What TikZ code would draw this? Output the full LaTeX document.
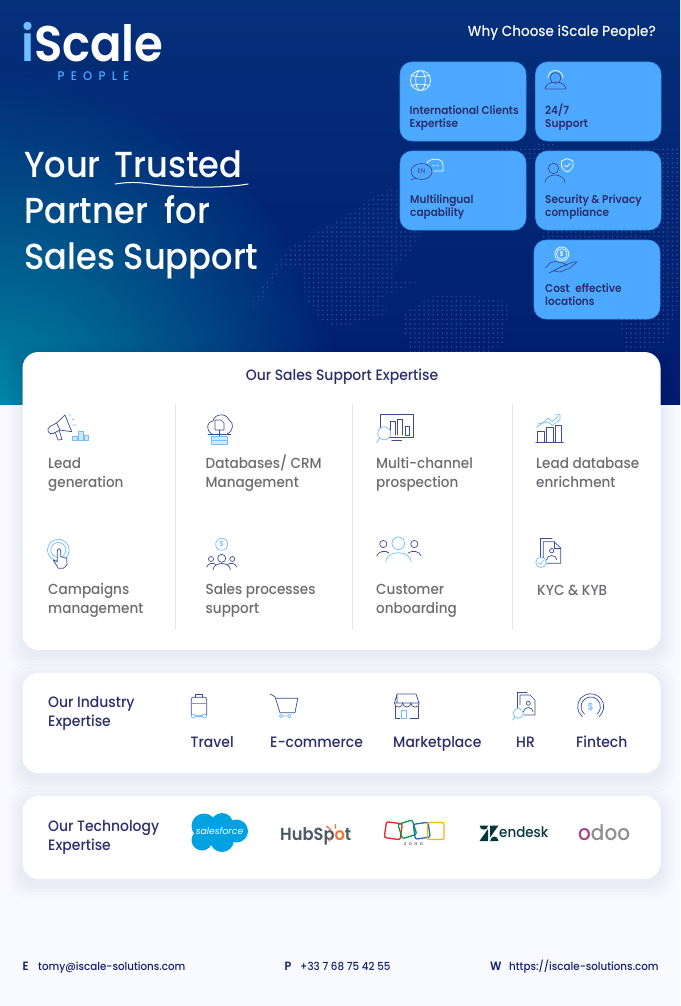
\documentclass[tikz,border=0pt]{standalone}
\usepackage{xcolor}
\usepackage{fontspec}
\usepackage{tikz}
\usetikzlibrary{fadings}
\setmainfont{Poppins}
\newfontfamily\outfit[FakeStretch=0.93]{Poppins Medium}
\newfontfamily\outfitbold[FakeStretch=0.93]{Poppins SemiBold}
\definecolor{pagebg}{HTML}{F8FAFF}
\definecolor{herotop}{HTML}{05307A}
\definecolor{herolow}{HTML}{001C6F}
\definecolor{heroglow}{HTML}{0094AA}
\definecolor{mapdot}{HTML}{324F9C}
\definecolor{tileblue}{HTML}{4DA9FF}
\definecolor{tileedge}{HTML}{3C93EA}
\definecolor{inkblue}{HTML}{2B2E6B}
\definecolor{graytext}{HTML}{6C6C72}
\definecolor{linedark}{HTML}{3D4C97}
\definecolor{linelight}{HTML}{6FBEFF}
\definecolor{rulegray}{HTML}{E1E5F0}
\definecolor{footink}{HTML}{12226F}
\definecolor{cloudblue}{HTML}{00A1E0}
\definecolor{hubgray}{HTML}{4A5A66}
\definecolor{huborange}{HTML}{F0743A}
\definecolor{zohored}{HTML}{E42527}
\definecolor{zohogreen}{HTML}{089949}
\definecolor{zohoblue}{HTML}{226DB4}
\definecolor{zohoyellow}{HTML}{F9B21D}
\definecolor{zendark}{HTML}{03363D}
\definecolor{odoopurple}{HTML}{A24689}
\definecolor{odoogray}{HTML}{8F8F8F}
\tikzset{
    tilebox/.style={fill=tileblue,draw=tileedge,line width=.6pt,rounded corners=12pt},
    tiletext/.style={font=\outfitbold\fontsize{11.3}{13}\selectfont,text=inkblue,align=left,anchor=west,inner sep=0pt},
    whitebox/.style={fill=white,rounded corners=16pt},
    headtext/.style={font=\outfit\fontsize{36.2}{40}\selectfont,text=white,anchor=base west,inner sep=0pt},
    itemtext/.style={font=\outfit\fontsize{14.6}{19}\selectfont,text=graytext,align=left,anchor=west,inner sep=0pt},
    inktext/.style={font=\outfit\fontsize{15}{19}\selectfont,text=inkblue,align=left,anchor=west,inner sep=0pt},
    foottext/.style={font=\outfit\fontsize{11.1}{13}\selectfont,text=footink,anchor=base west,inner sep=0pt},
    footkey/.style={font=\outfitbold\fontsize{12}{13}\selectfont,text=footink,anchor=base west,inner sep=0pt},
    icondark/.style={draw=linedark,line width=.7pt,line join=round,line cap=round},
    iconlight/.style={draw=linelight,line width=.7pt,line join=round,line cap=round},
    tilewhite/.style={draw=white,line width=.7pt,line join=round,line cap=round},
    tiledark/.style={draw=linedark,line width=.7pt,line join=round,line cap=round}
}
\tikzfading[name=glowfade,inner color=transparent!0,outer color=transparent!100]
\newcommand{\softshadow}[4]{%
    \foreach \s in {14,11,8,5,2}
        \fill[black!60!blue,opacity=.01,rounded corners=18pt] (#1-\s,#2-\s+5) rectangle (#3+\s,#4+\s+5);
}
\begin{document}
\begin{tikzpicture}[x=1pt,y=-1pt]
    \useasboundingbox (0,0) rectangle (680,1006);
    \fill[pagebg] (0,0) rectangle (680,1006);
    % hero band
    \begin{scope}
        \clip (0,0) rectangle (680,404);
        \shade[top color=herotop,middle color=herolow,bottom color=herolow] (0,0) rectangle (680,404);
        \fill[heroglow,path fading=glowfade] (-20,440) circle[radius=370];
        \begin{scope}
            \clip (243,315) -- (260,290) -- (277,263) -- (297,243) -- (343,218) -- (373,197) -- (400,185) -- (400,230) -- (422,232) -- (410,253) -- (393,267) -- (397,283) -- (423,280) -- (377,300) -- (390,313) -- (343,327) -- (323,323) -- (305,297) -- (302,267) -- (283,267) -- (263,297) -- cycle
                (403,313) -- (437,293) -- (470,295) -- (510,302) -- (503,343) -- (490,352) -- (410,352) -- (403,327) -- cycle
                (490,150) -- (557,142) -- (530,162) -- (500,165) -- cycle
                (610,150) -- (680,148) -- (680,300) -- (665,345) -- (625,352) -- (620,320) -- (540,236) -- (620,150) -- cycle;
            \foreach \j in {0,...,46}
                \draw[mapdot,line width=1.6pt,line cap=round,dash pattern=on 0pt off 4.6pt] (240,{140+4.6*\j}) -- (680,{140+4.6*\j});
        \end{scope}
    \end{scope}
    % logo
    \node[anchor=base west,inner sep=0pt,text=white,font=\outfitbold\fontsize{50}{50}\selectfont] (logo) at (21,62) {{\color{linelight}i}Scale};
    \node[inner sep=0pt,text=tileblue,font={\outfit\addfontfeature{LetterSpace=50}\fontsize{12.5}{14}\selectfont}] (logopeople) at (93.5,76.5) {PEOPLE};
    % headline
    \node[headtext] (lineone) at (24,177) {Your\hspace{5pt} Trusted};
    \node[headtext] (linetwo) at (24,223) {Partner\hspace{8pt} for};
    \node[headtext] (linethree) at (24,269) {Sales Support};
    \draw[white,line width=1pt,line cap=round] (115,184) .. controls (135,181) and (142,183) .. (160,185) .. controls (190,188) and (225,188) .. (248,184);
    % why choose tiles
    \node[anchor=east,inner sep=0pt,text=white,font=\outfit\fontsize{14.6}{16}\selectfont] (whytitle) at (656,33) {Why Choose iScale People?};
    \filldraw[tilebox] (400,62) rectangle (526,141);
    \filldraw[tilebox] (535.5,62) rectangle (661,141);
    \filldraw[tilebox] (400,151) rectangle (526,230);
    \filldraw[tilebox] (535.5,151) rectangle (661,230);
    \filldraw[tilebox] (534,240) rectangle (660,319);
    \node[tiletext] (intl) at (409.5,118) {International Clients\\Expertise};
    \node[tiletext] (support) at (545,117.5) {24/7\\Support};
    \node[tiletext] (multi) at (410,207.5) {Multilingual\\capability};
    \node[tiletext] (security) at (545,207.5) {Security \& Privacy\\compliance};
    \node[tiletext] (cost) at (545,294.5) {Cost\hspace{3pt} effective\\locations};
    % tile icons
    \draw[tilewhite] (420.5,80.5) circle[radius=10] (420.5,80.5) ellipse[x radius=4.8,y radius=10];
    \draw[tilewhite] (411,75) .. controls (417,77.5) and (424,77.5) .. (430,75) (411,86) .. controls (417,83.5) and (424,83.5) .. (430,86);
    \draw[tilewhite] (548,78) arc[start angle=180,end angle=360,radius=7.5];
    \draw[tiledark] (555.5,78) circle[radius=5.5];
    \draw[tiledark] (545,89) arc[start angle=180,end angle=360,x radius=10.5,y radius=7] -- cycle;
    \draw[tiledark] (421.5,171.5) ellipse[x radius=10.5,y radius=8];
    \draw[tiledark] (411,179.5) -- (416,178.5);
    \draw[tilewhite] (427,163) .. controls (429,158) and (443,157) .. (443,165) -- (443,171) -- (433.5,171);
    \draw[tilewhite] (433,165) -- (434,165) (437,165) -- (438,165);
    \node[inner sep=0pt,text=linedark,font=\outfit\fontsize{6.5}{7}\selectfont] (enmark) at (421.5,171.5) {EN};
    \draw[tiledark] (553.5,168.5) circle[radius=5.2];
    \draw[tiledark] (545,182.5) arc[start angle=180,end angle=360,x radius=10,y radius=7.5];
    \draw[tilewhite] (567.3,158.5) -- (573,161) -- (573,166) .. controls (572.5,169) and (570,171) .. (567.3,172) .. controls (564.5,171) and (562,169) .. (561.5,166) -- (561.5,161) -- cycle;
    \draw[tilewhite] (564.5,165) -- (566.5,167) -- (570,163.5);
    \draw[tilewhite] (561.8,254) circle[radius=7];
    \draw[tilewhite] (561.8,254) circle[radius=5.3];
    \node[inner sep=0pt,text=white,font=\outfit\fontsize{7}{8}\selectfont] (costmark) at (561.8,254) {\$};
    \draw[tiledark] (545.5,268) -- (550,263) -- (555,261.5) -- (563,263) -- (567,265) -- (560,267) (562,266.5) -- (573,262) -- (577,262) -- (570,268) -- (560,272) -- (553,271) -- (549,273) -- cycle;
    % sales support card
    \softshadow{22.5}{352}{660.5}{650}
    \fill[whitebox] (22.5,352) rectangle (660.5,650);
    \node[inktext,anchor=center] (salestitle) at (342,376.5) {Our Sales Support Expertise};
    \coordinate (ruleonetop) at (175.5,404);
    \coordinate (ruleonelow) at (175.5,629);
    \coordinate (ruletwotop) at (352.8,404);
    \coordinate (ruletwolow) at (352.8,629);
    \coordinate (rulethreetop) at (512.3,404);
    \coordinate (rulethreelow) at (512.3,629);
    \draw[rulegray,line width=1pt] (ruleonetop) -- (ruleonelow);
    \draw[rulegray,line width=1pt] (ruletwotop) -- (ruletwolow);
    \draw[rulegray,line width=1pt] (rulethreetop) -- (rulethreelow);
    \node[itemtext] (leadgen) at (48,474.5) {Lead\\generation};
    \node[itemtext] (crm) at (205.5,473.5) {Databases/ CRM\\Management};
    \node[itemtext] (prospect) at (376,474.5) {Multi-channel\\prospection};
    \node[itemtext] (enrich) at (536,472.5) {Lead database\\enrichment};
    \node[itemtext] (campaign) at (48,600.5) {Campaigns\\management};
    \node[itemtext] (process) at (205.5,600.5) {Sales processes\\support};
    \node[itemtext] (onboard) at (376,600.5) {Customer\\onboarding};
    \node[itemtext] (kyc) at (537,590) {KYC \& KYB};
    % megaphone
    \draw[icondark] (56.7,423) -- (65,415) -- (71.7,431.7) -- (60,430) -- cycle;
    \draw[icondark] (56.7,423) -- (50,426.5) .. controls (46,429) and (48,435) .. (53,433.5) -- (60,430);
    \draw[icondark] (55.5,433) -- (58,440) -- (62,439.5) -- (59.5,431.5);
    \draw[iconlight] (69.5,415.5) -- (71,414) (72,420) -- (74,419) (73,425) -- (76,425);
    \filldraw[iconlight,fill=linelight!35] (72.3,436.7) rectangle (77.3,440.7) (78.3,431.7) rectangle (83,440.7) (84,435) rectangle (88.5,440.7);
    % database cloud
    \draw[icondark] (212,434) .. controls (205,430) and (207,421) .. (213,421) .. controls (214,414) and (226,412) .. (229,420) .. controls (234,422) and (234,431) .. (227,434);
    \filldraw[icondark,fill=white] (215,420) -- (221,420) -- (224,423) -- (224,430) -- (215,430) -- cycle;
    \draw[icondark] (219.5,430) -- (219.5,437) (208,434) -- (230.7,434);
    \filldraw[iconlight,fill=linelight!30] (211.7,436.7) rectangle (227.3,440) (211.7,440.5) rectangle (227.3,444);
    % touch
    \draw[iconlight] (58.3,550) circle[radius=10.8];
    \draw[iconlight] (58.3,550) circle[radius=7.5];
    \filldraw[icondark,fill=white] (57.3,551) .. controls (57.5,548) and (60.5,548) .. (60.7,551) -- (60.7,556.7) -- (66.7,558.3) -- (67,565) -- (63.3,568.3) -- (58.3,568.3) -- (53.3,560) -- (57.3,561.7) -- cycle;
    % sales people
    \draw[iconlight] (221.7,544.3) circle[radius=6];
    \node[inner sep=0pt,text=linelight,font=\outfit\fontsize{7.5}{8}\selectfont] (salesmark) at (221.7,544.3) {\$};
    \draw[icondark] (221.7,558.3) circle[radius=4] (211,559) circle[radius=2.5] (232.3,559) circle[radius=2.5];
    \draw[icondark] (213,570) arc[start angle=180,end angle=360,x radius=8.7,y radius=6.5];
    \draw[icondark] (206.7,567) .. controls (208,563) and (213,562.5) .. (216,564.5) (236.7,567) .. controls (235.5,563) and (230.5,562.5) .. (227.5,564.5);
    % monitor
    \draw[icondark] (380,430) -- (380,414.3) -- (413.3,414.3) -- (413.3,437.3) -- (388,437.3);
    \draw[icondark] (391.7,440.7) -- (401.7,440.7);
    \draw[icondark] (390,435) -- (390,421.7) -- (395,421.7) -- (395,435) (397.3,435) -- (397.3,419) -- (402.3,419) -- (402.3,435) (405,435) -- (405,426.7) -- (409.3,426.7) -- (409.3,435) -- cycle;
    \filldraw[iconlight,fill=white] (384.3,433.3) circle[radius=6.5];
    \draw[iconlight] (379.7,438) -- (376.7,442.7);
    % growth bars
    \draw[icondark] (537.7,442.3) -- (537.7,431.7) -- (544.3,431.7) -- (544.3,442.3) (546.7,442.3) -- (546.7,427.3) -- (553.3,427.3) -- (553.3,442.3) (555.7,442.3) -- (555.7,425) -- (561.7,425) -- (561.7,442.3) (535.7,442.7) -- (563.3,442.7);
    \draw[iconlight] (536.7,427.3) -- (548.3,418.3) -- (552.3,421.7) -- (558,416.5) (555,415) -- (560,414.5) -- (560,419.5);
    \draw[iconlight] (537.5,424) -- (548.3,422) -- (552.3,425.5) -- (560,419.5);
    % customers
    \draw[iconlight] (398.3,543.3) circle[radius=6.3];
    \draw[iconlight] (385.7,561.7) arc[start angle=180,end angle=360,x radius=12.7,y radius=9];
    \draw[icondark] (383.3,544) circle[radius=3.6] (414.3,544) circle[radius=3.6];
    \draw[icondark] (376.7,556) .. controls (378,551) and (386,550) .. (389,553) (421,556) .. controls (420,551) and (412,550) .. (408,553);
    % kyc doc
    \draw[icondark] (540,560) -- (540,538.3) -- (552,538.3);
    \draw[icondark] (543.3,558) -- (543.3,541.7) -- (554,541.7) -- (560.7,548) -- (560.7,563.3) -- (547,563.3);
    \draw[icondark] (554,541.7) -- (554,548) -- (560.7,548);
    \draw[icondark] (551.7,550.7) circle[radius=2.2];
    \draw[icondark] (546.5,560) arc[start angle=180,end angle=360,x radius=5.2,y radius=4.5];
    \filldraw[iconlight,fill=white] (541,562.3) circle[radius=5.2];
    \draw[iconlight] (538.5,562.5) -- (540.5,564.3) -- (543.5,560.5);
    % industry card
    \softshadow{22.5}{673}{660.5}{773}
    \fill[whitebox] (22.5,673) rectangle (660.5,773);
    \node[inktext] (industry) at (48,713.5) {Our Industry\\Expertise};
    \node[inktext,anchor=base west] (travel) at (190.5,747.5) {Travel};
    \node[inktext,anchor=base west] (ecom) at (270,747.5) {E-commerce};
    \node[inktext,anchor=base west] (market) at (393,747.5) {Marketplace};
    \node[inktext,anchor=base west] (hrlabel) at (516,747.5) {HR};
    \node[inktext,anchor=base west] (fintech) at (576,747.5) {Fintech};
    % suitcase
    \draw[icondark,rounded corners=2pt] (191.3,716) rectangle (206.7,697.3);
    \draw[icondark] (195.7,697.3) -- (195.7,694) -- (202.3,694) -- (202.3,697.3);
    \draw[draw=linedark!60,line width=1pt] (191.5,703.3) -- (206.5,703.3);
    \filldraw[iconlight,fill=white] (193.3,716) circle[radius=2] (204.3,716) circle[radius=2];
    \draw[iconlight] (195.3,716) -- (202.3,716);
    % cart
    \draw[icondark] (270,694) -- (275,696.7) -- (280,712.7) -- (295,712.7) -- (297.7,698.3) -- (276,698.3);
    \draw[iconlight] (281,716) circle[radius=1.7] (289.3,716) circle[radius=1.7] (282.7,716) -- (287.6,716);
    % store
    \draw[icondark] (397,703) -- (397,694) -- (416,694) -- (419,703) -- (394.5,703) -- (397,694);
    \foreach \sx in {394.5,402.7,410.9}
        \draw[icondark] (\sx,703) arc[start angle=180,end angle=0,radius=4.1];
    \draw[icondark] (395.5,706) -- (395.5,718) -- (400,718) (410,718) -- (418,718) -- (418,706);
    \draw[iconlight] (401.7,710) rectangle (406.7,718);
    % hr doc
    \draw[icondark] (517.7,708) -- (517.7,692.3) -- (527,692.3);
    \draw[icondark] (520,705) -- (520,695) -- (530,695) -- (535,700) -- (535,715) -- (524,715);
    \draw[icondark] (528.3,703.3) circle[radius=2];
    \draw[icondark] (523.5,712) arc[start angle=180,end angle=360,x radius=4.8,y radius=4.5];
    \filldraw[iconlight,fill=white] (518.3,713.3) circle[radius=5];
    \draw[iconlight] (514.8,717) -- (512.7,720);
    % fintech dial
    \draw[icondark] (582.3,716.7) arc[start angle=130,end angle=410,radius=13];
    \draw[icondark] (584.5,714.1) arc[start angle=130,end angle=410,radius=9.7];
    \node[inner sep=0pt,text=linelight,font=\outfit\fontsize{10}{10}\selectfont] (dialmark) at (590.7,706.7) {\$};
    % technology card
    \softshadow{22.5}{796}{660.5}{879}
    \fill[whitebox] (22.5,796) rectangle (660.5,879);
    \node[inktext] (tech) at (48,837.5) {Our Technology\\Expertise};
    % salesforce
    \fill[cloudblue] (204,826) circle[radius=12.5] (222,824) circle[radius=11] (236.5,831) circle[radius=11.5] (222,840) circle[radius=12] (202,840) circle[radius=10.5] (215,832) circle[radius=14];
    \node[inner sep=0pt,text=white,font=\fontsize{9.2}{10}\selectfont\itshape] (salesforce) at (219.5,831.5) {salesforce};
    % hubspot
    \node[anchor=base west,inner sep=0pt,text=hubgray,font=\outfitbold\fontsize{17.5}{19}\selectfont] (hubspot) at (280,840.5) {HubSp{\color{huborange}o}t};
    \draw[huborange,line width=1.3pt] (335.5,824) -- (335.5,828.5) (326.5,826) -- (331,830) (331,837) -- (329,841);
    % zoho
    \draw[zohored,line width=1.3pt,rounded corners=2pt,rotate around={-8:(393.3,830.7)}] (385.3,822.7) rectangle (401.3,838.7);
    \draw[zohogreen,line width=1.3pt,rounded corners=2pt,rotate around={18:(407.3,829.3)}] (399.8,821.8) rectangle (414.8,836.8);
    \draw[zohoblue,line width=1.3pt,rounded corners=2pt,rotate around={8:(421.7,830.7)}] (414.2,823.2) rectangle (429.2,838.2);
    \draw[zohoyellow,line width=1.3pt,rounded corners=2pt] (427.5,822.5) rectangle (444,839.5);
    \node[inner sep=0pt,text=black!80,font={\outfit\addfontfeature{LetterSpace=70}\fontsize{4}{5}\selectfont}] (zoho) at (413.5,844) {ZOHO};
    % zendesk
    \fill[zendark] (488,829) -- (488,841) -- (479.5,841) -- cycle (479.5,825.5) -- (488,825.5) .. controls (488,831) and (480,831) .. (479.5,825.5) -- cycle (490,825.5) -- (498.5,825.5) -- (490,837.5) -- cycle (490,841) .. controls (491,835) and (498,835) .. (498.5,841) -- cycle;
    \node[anchor=base west,inner sep=0pt,text=zendark,font=\outfit\fontsize{14.5}{16}\selectfont] (zendesk) at (499,837) {endesk};
    % odoo
    \node[anchor=base west,inner sep=0pt,text=odoogray,font=\outfit\fontsize{21.5}{22}\selectfont] (odoo) at (578,840.5) {{\color{odoopurple}o}doo};
    % footer
    \node[footkey] (ekey) at (22.5,970) {E};
    \node[foottext] (email) at (38,970) {tomy@iscale-solutions.com};
    \node[footkey] (pkey) at (284.5,970) {P};
    \node[foottext] (phone) at (300,970) {+33 7 68 75 42 55};
    \node[footkey] (wkey) at (490,970) {W};
    \node[foottext] (web) at (509,970) {https://iscale-solutions.com};
\end{tikzpicture}
\end{document}
